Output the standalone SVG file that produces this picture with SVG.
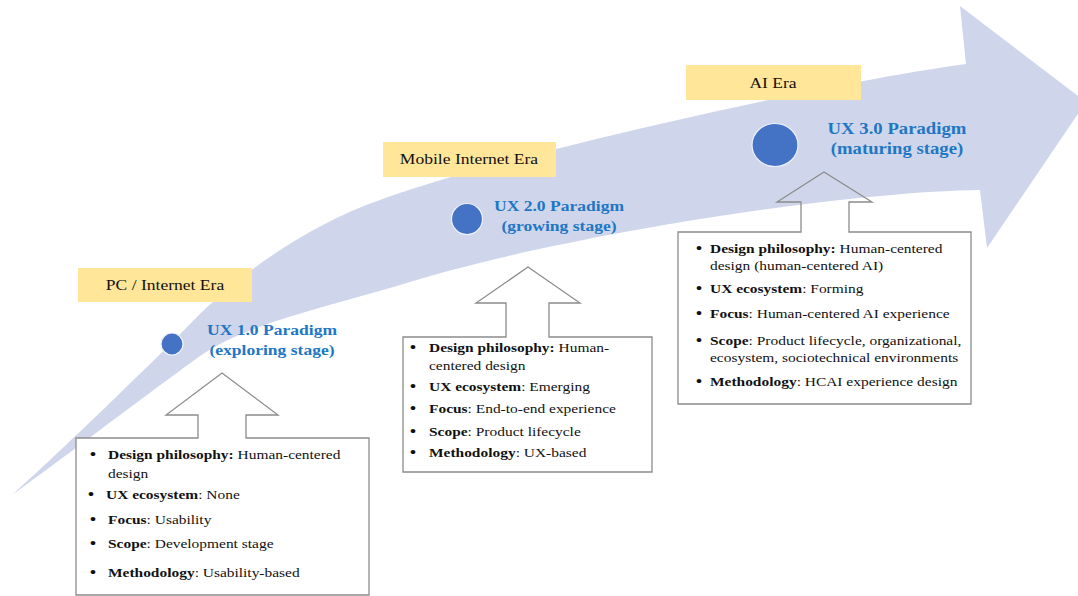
<svg xmlns="http://www.w3.org/2000/svg" width="1078" height="596" viewBox="0 0 1078 596">
<style>
.t{font-family:"Liberation Serif","Times New Roman",serif;fill:#111}
.b{font-weight:bold}
.bx{font-size:13.2px}
.era{font-size:15px;text-anchor:middle}
.ttl{font-size:15px;font-weight:bold;fill:#1f77c4;text-anchor:middle}
.ttl3{font-size:16px}
.bul{text-anchor:middle;font-size:17px}
.lab{fill:#ffe699}
.dot{fill:#4472c4;stroke:#eef1f9;stroke-width:1.2}
.card{fill:#fff}
.out{fill:none;stroke:#8c8c8c;stroke-width:1.3;stroke-linejoin:miter}
</style>
<rect width="1078" height="596" fill="#fff"/>
<g id="band">
<path fill="#cfd5ea" d="M12,495 C60,452 150,365 193,321 C236,277 305,226 380,200 C500,156 830,82 966,64 L960,6 L1086,102 L987,248 L980,190 C830,192 540,240 400,285 C330,306 245,324 200,356 C150,392 50,468 12,495 Z"/>
</g>
<g id="era-pc">
<rect class="lab" x="78" y="268" width="174" height="34"/>
<text class="t era" transform="matrix(1.17 0 0 1 165 290)">PC / Internet Era</text>
</g>
<g id="era-mobile">
<rect class="lab" x="383" y="142" width="173" height="35"/>
<text class="t era" transform="matrix(1.17 0 0 1 469 164)">Mobile Internet Era</text>
</g>
<g id="era-ai">
<rect class="lab" x="686" y="65" width="175" height="35"/>
<text class="t era" transform="matrix(1.17 0 0 1 773 88)">AI Era</text>
</g>
<g id="ux1">
<circle class="dot" cx="172" cy="344" r="11"/>
<text class="t ttl" transform="matrix(1.17 0 0 1 272 335)">UX 1.0 Paradigm</text>
<text class="t ttl" transform="matrix(1.17 0 0 1 272 355)">(exploring stage)</text>
</g>
<g id="ux2">
<circle class="dot" cx="467" cy="219" r="15.5"/>
<text class="t ttl" transform="matrix(1.17 0 0 1 559 211)">UX 2.0 Paradigm</text>
<text class="t ttl" transform="matrix(1.17 0 0 1 559 231)">(growing stage)</text>
</g>
<g id="ux3">
<ellipse class="dot" cx="775" cy="145" rx="23" ry="21.5"/>
<text class="t ttl ttl3" transform="matrix(1.17 0 0 1 897 134)">UX 3.0 Paradigm</text>
<text class="t ttl ttl3" transform="matrix(1.17 0 0 1 897 154)">(maturing stage)</text>
</g>
<g id="box1">
<rect class="card" x="76" y="438" width="293" height="157"/>
<text class="t bul" transform="matrix(1.17 0 0 1 93 460)">•</text>
<text class="t bx" transform="matrix(1.17 0 0 1 108 459)"><tspan class="b">Design philosophy:</tspan> Human-centered</text>
<text class="t bx" transform="matrix(1.17 0 0 1 108 478)">design</text>
<text class="t bul" transform="matrix(1.17 0 0 1 91 500)">•</text>
<text class="t bx" transform="matrix(1.17 0 0 1 106 499)"><tspan class="b">UX ecosystem</tspan>: None</text>
<text class="t bul" transform="matrix(1.17 0 0 1 93 524.5)">•</text>
<text class="t bx" transform="matrix(1.17 0 0 1 108 523.5)"><tspan class="b">Focus</tspan>: Usability</text>
<text class="t bul" transform="matrix(1.17 0 0 1 93 548.5)">•</text>
<text class="t bx" transform="matrix(1.17 0 0 1 108 547.5)"><tspan class="b">Scope</tspan>: Development stage</text>
<text class="t bul" transform="matrix(1.17 0 0 1 93 578)">•</text>
<text class="t bx" transform="matrix(1.17 0 0 1 108 577)"><tspan class="b">Methodology</tspan>: Usability-based</text>
</g>
<g id="box2">
<rect class="card" x="403" y="337" width="249" height="135"/>
<text class="t bul" transform="matrix(1.17 0 0 1 413 353)">•</text>
<text class="t bx" transform="matrix(1.17 0 0 1 429 352)"><tspan class="b">Design philosophy:</tspan> Human-</text>
<text class="t bx" transform="matrix(1.17 0 0 1 429 370)">centered design</text>
<text class="t bul" transform="matrix(1.17 0 0 1 413 392)">•</text>
<text class="t bx" transform="matrix(1.17 0 0 1 429 391)"><tspan class="b">UX ecosystem</tspan>: Emerging</text>
<text class="t bul" transform="matrix(1.17 0 0 1 413 414)">•</text>
<text class="t bx" transform="matrix(1.17 0 0 1 429 413)"><tspan class="b">Focus</tspan>: End-to-end experience</text>
<text class="t bul" transform="matrix(1.17 0 0 1 413 437)">•</text>
<text class="t bx" transform="matrix(1.17 0 0 1 429 436)"><tspan class="b">Scope</tspan>: Product lifecycle</text>
<text class="t bul" transform="matrix(1.17 0 0 1 413 458)">•</text>
<text class="t bx" transform="matrix(1.17 0 0 1 429 457)"><tspan class="b">Methodology</tspan>: UX-based</text>
</g>
<g id="box3">
<rect class="card" x="678" y="232" width="293" height="172"/>
<text class="t bul" transform="matrix(1.17 0 0 1 699 254)">•</text>
<text class="t bx" transform="matrix(1.17 0 0 1 710 253)"><tspan class="b">Design philosophy:</tspan> Human-centered</text>
<text class="t bx" transform="matrix(1.17 0 0 1 710 270)">design (human-centered AI)</text>
<text class="t bul" transform="matrix(1.17 0 0 1 699 294)">•</text>
<text class="t bx" transform="matrix(1.17 0 0 1 710 293)"><tspan class="b">UX ecosystem</tspan>: Forming</text>
<text class="t bul" transform="matrix(1.17 0 0 1 699 319)">•</text>
<text class="t bx" transform="matrix(1.17 0 0 1 710 318)"><tspan class="b">Focus</tspan>: Human-centered AI experience</text>
<text class="t bul" transform="matrix(1.17 0 0 1 699 346)">•</text>
<text class="t bx" transform="matrix(1.17 0 0 1 710 345)"><tspan class="b">Scope</tspan>: Product lifecycle, organizational,</text>
<text class="t bx" transform="matrix(1.17 0 0 1 710 362)">ecosystem, sociotechnical environments</text>
<text class="t bul" transform="matrix(1.17 0 0 1 699 387)">•</text>
<text class="t bx" transform="matrix(1.17 0 0 1 710 386)"><tspan class="b">Methodology</tspan>: HCAI experience design</text>
</g>
<g id="connectors">
<path class="out" d="M76,438 H198 V415 H166 L222,373 L278,415 H246 V438 H369 V595 H76 Z"/>
<path class="out" d="M403,337 H506 V303 H476 L528,267 L580,303 H549 V337 H652 V472 H403 Z"/>
<path class="out" d="M678,232 H801 V202 H777 L824,172 L872,202 H849 V232 H971 V404 H678 Z"/>
</g>
</svg>
